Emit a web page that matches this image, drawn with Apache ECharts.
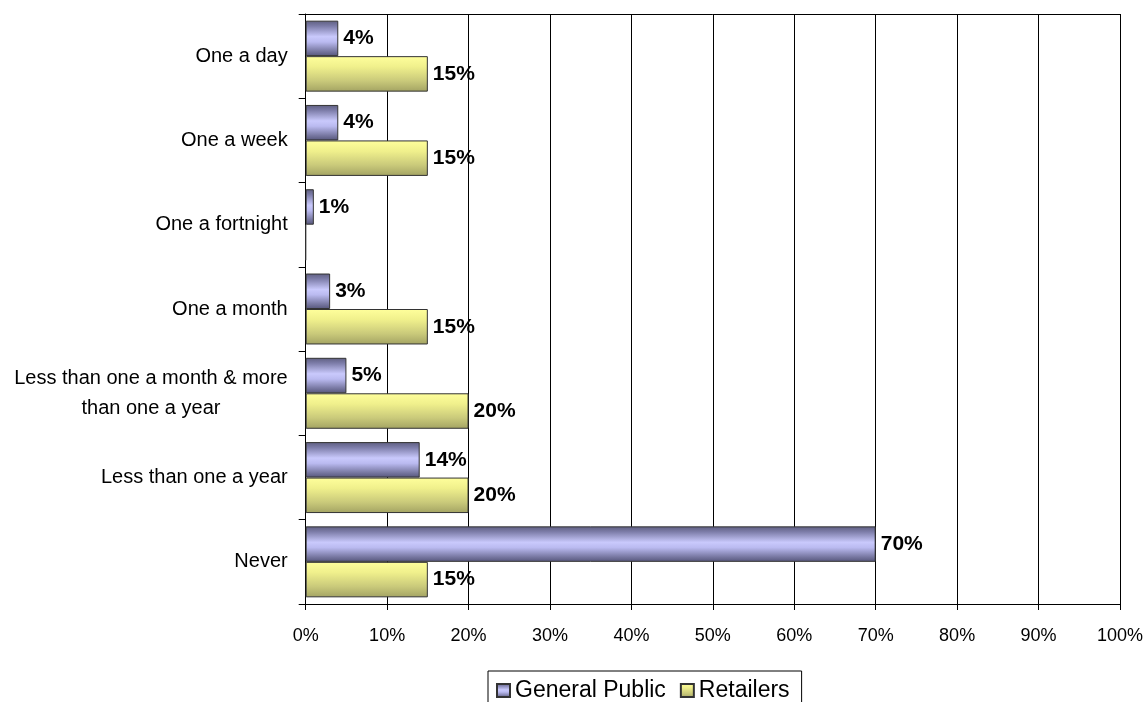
<!DOCTYPE html>
<html>
<head>
<meta charset="utf-8">
<script src="https://cdn.jsdelivr.net/npm/echarts@6/dist/echarts.min.js"></script>
<style>
  html, body { margin: 0; padding: 0; background: #fff; }
  #chart { width: 1146px; height: 702px; }
</style>
</head>
<body>
<div id="chart"></div>
<script>
const categories = [
  'One a day',
  'One a week',
  'One a fortnight',
  'One a month',
  'Less than one a month & more\nthan one a year',
  'Less than one a year',
  'Never'
];
const generalPublic = [4, 4, 1, 3, 5, 14, 70];
const retailers = [15, 15, 0, 15, 20, 20, 15];
const seriesNames = ['General Public', 'Retailers'];
const xTicks = { min: 0, max: 100, interval: 10 };

const FONT = '"Liberation Sans", Arial, sans-serif';

const blueFill = new echarts.graphic.LinearGradient(0, 0, 0, 1, [
  { offset: 0, color: '#5e5e80' },
  { offset: 0.15, color: '#7c7ca8' },
  { offset: 0.45, color: '#c9c9fc' },
  { offset: 0.6, color: '#babaf0' },
  { offset: 0.85, color: '#7a7aa4' },
  { offset: 1, color: '#55557a' }
]);
const yellowFill = new echarts.graphic.LinearGradient(0, 0, 0, 1, [
  { offset: 0, color: '#ffff9c' },
  { offset: 0.3, color: '#f0f08c' },
  { offset: 0.7, color: '#c9c97a' },
  { offset: 1, color: '#a3a363' }
]);

const labelCfg = {
  show: true,
  position: 'right',
  distance: 5,
  color: '#000',
  fontFamily: FONT,
  fontWeight: 'bold',
  fontSize: 21,
  formatter: p => (p.value ? p.value + '%' : '')
};

const chart = echarts.init(document.getElementById('chart'), null, { renderer: 'canvas' });
chart.setOption({
  animation: false,
  backgroundColor: '#fff',
  textStyle: { fontFamily: FONT },
  grid: { left: 305.7, right: 24.3, top: 14, bottom: 98, containLabel: false },
  xAxis: [{
    type: 'value',
    min: xTicks.min, max: xTicks.max, interval: xTicks.interval,
    axisLine: { show: true, lineStyle: { color: '#000', width: 1 } },
    axisTick: { show: true, inside: false, length: 6, lineStyle: { color: '#000' } },
    axisLabel: { formatter: '{value}%', color: '#000', fontSize: 18, fontFamily: FONT, margin: 23 },
    splitLine: { show: true, lineStyle: { color: '#000', width: 1 } }
  }, {
    type: 'value', position: 'top',
    min: xTicks.min, max: xTicks.max,
    axisLine: { show: true, lineStyle: { color: '#000', width: 1 } },
    axisTick: { show: false }, axisLabel: { show: false }, splitLine: { show: false }
  }],
  yAxis: {
    type: 'category',
    data: categories,
    inverse: true,
    axisLine: { show: true, lineStyle: { color: '#000', width: 1 } },
    axisTick: { show: true, inside: false, length: 7, alignWithLabel: false, lineStyle: { color: '#000' } },
    axisLabel: {
      color: '#000', fontSize: 20, fontFamily: FONT, margin: 18, lineHeight: 30,
      formatter: v => v.indexOf('\n') >= 0 ? v.split('\n').map(l => '{m|' + l + '}').join('\n') : v,
      rich: { m: { align: 'center', fontSize: 20, fontFamily: FONT, color: '#000', lineHeight: 30 } }
    },
    splitLine: { show: false }
  },
  legend: {
    left: 488, top: 671,
    padding: [8, 12, 8, 8],
    borderColor: '#000', borderWidth: 1,
    itemWidth: 13, itemHeight: 13, itemGap: 14,
    icon: 'rect',
    textStyle: { color: '#000', fontSize: 23, fontFamily: FONT },
    data: seriesNames
  },
  series: [{
    name: seriesNames[0],
    type: 'bar',
    data: generalPublic,
    barGap: '0%',
    barCategoryGap: '15.8%',
    itemStyle: { color: blueFill, borderColor: '#333', borderWidth: 1 },
    label: labelCfg
  }, {
    name: seriesNames[1],
    type: 'bar',
    data: retailers,
    barGap: '0%',
    barCategoryGap: '15.8%',
    itemStyle: { color: yellowFill, borderColor: '#333', borderWidth: 1 },
    label: labelCfg
  }]
});
</script>
</body>
</html>
